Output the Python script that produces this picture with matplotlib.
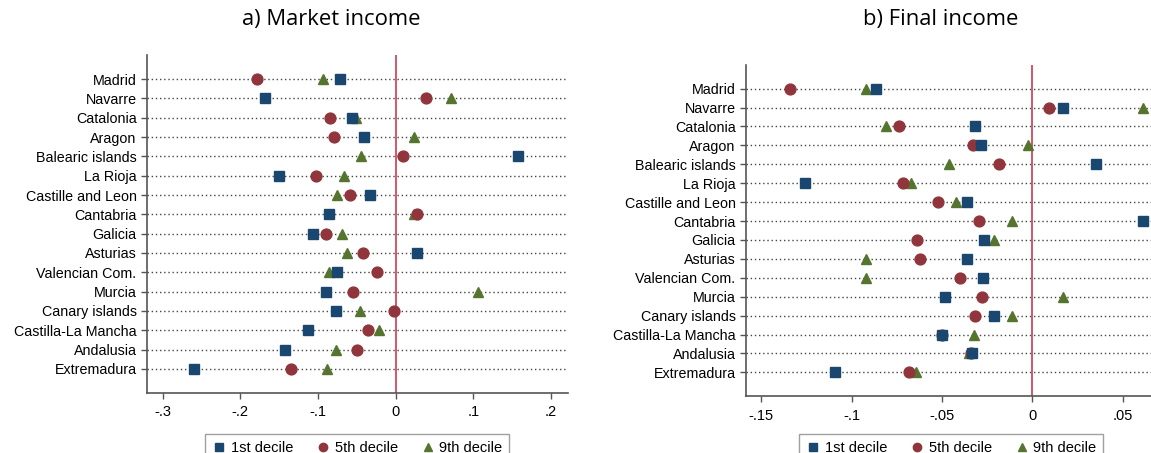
import numpy as np
import matplotlib.pyplot as plt
from matplotlib.lines import Line2D

plt.rcParams['font.family'] = ['Liberation Sans', 'DejaVu Sans']

regions = ["Madrid", "Navarre", "Catalonia", "Aragon", "Balearic islands", "La Rioja",
           "Castille and Leon", "Cantabria", "Galicia", "Asturias", "Valencian Com.",
           "Murcia", "Canary islands", "Castilla-La Mancha", "Andalusia", "Extremadura"]

# a) Market income
market_d1 = [-0.071, -0.168, -0.056, -0.041, 0.157, -0.150, -0.033, -0.086,
             -0.106, 0.028, -0.076, -0.090, -0.077, -0.113, -0.142, -0.259]
market_d5 = [-0.178, 0.039, -0.085, -0.079, 0.010, -0.102, -0.059, 0.027,
             -0.089, -0.042, -0.024, -0.055, -0.002, -0.036, -0.050, -0.134]
market_d9 = [-0.094, 0.072, -0.051, 0.024, -0.044, -0.067, -0.075, 0.024,
             -0.069, -0.062, -0.086, 0.106, -0.046, -0.021, -0.077, -0.088]

# b) Final income
final_d1 = [-0.0865, 0.0168, -0.0316, -0.0286, 0.035, -0.1256, -0.0362, 0.061,
            -0.0266, -0.0362, -0.0271, -0.0483, -0.0212, -0.0502, -0.0334, -0.1095]
final_d5 = [-0.134, 0.0092, -0.074, -0.0327, -0.0186, -0.0718, -0.0524, -0.0293,
            -0.0637, -0.062, -0.040, -0.028, -0.0315, -0.0500, -0.0340, -0.0685]
final_d9 = [-0.092, 0.061, -0.081, -0.0026, -0.0463, -0.0673, -0.042, -0.0114,
            -0.0214, -0.0919, -0.0923, 0.0168, -0.0113, -0.0325, -0.0350, -0.0645]

navy = '#1a476f'
maroon = '#90353b'
green = '#55752f'
zero_red = '#cf4a5e'

W, H = 1151, 453
fig = plt.figure(figsize=(W / 100, H / 100), dpi=100)


def panel(rect, d1, d5, d9, xlim, xticks, xlabels):
    ax = fig.add_axes(rect)
    y = np.arange(len(regions))
    for yy in y:
        ax.axhline(yy, color='#444444', lw=1.0, ls=(0, (1, 2)), zorder=1)
    ax.axvline(0, color=zero_red, lw=1.3, zorder=2)
    ax.plot(d9, y, '^', color=green, ms=7.8, ls='none', zorder=3)
    ax.plot(d5, y, 'o', color=maroon, ms=7.8, ls='none', zorder=4)
    ax.plot(d1, y, 's', color=navy, ms=7.8, ls='none', zorder=5)
    ax.set_yticks(y)
    ax.set_yticklabels(regions, fontsize=10.3)
    ax.set_ylim(len(regions) - 1 + 1.25, -1.25)
    ax.set_xlim(*xlim)
    ax.set_xticks(xticks)
    ax.set_xticklabels(xlabels, fontsize=10.5)
    for s in ['top', 'right']:
        ax.spines[s].set_visible(False)
    for s in ['left', 'bottom']:
        ax.spines[s].set_color('#555555')
        ax.spines[s].set_linewidth(1.2)
    ax.tick_params(axis='both', colors='#555555', labelcolor='black', length=4, width=1)
    ax.tick_params(axis='x', pad=5)
    return ax


ax1 = panel([147 / W, 1 - 393 / H, 421 / W, 338 / H], market_d1, market_d5, market_d9,
            (-0.320, 0.222), [-0.3, -0.2, -0.1, 0, 0.1, 0.2],
            ['-.3', '-.2', '-.1', '0', '.1', '.2'])
ax2 = panel([746 / W, 1 - 396 / H, 405 / W, 331 / H], final_d1, final_d5, final_d9,
            (-0.1585, 0.0657), [-0.15, -0.1, -0.05, 0, 0.05],
            ['-.15', '-.1', '-.05', '0', '.05'])

fig.text(331 / W, 1 - 20 / H, "a) Market income", ha='center', va='center',
         fontsize=15.8, family=['Open Sans', 'DejaVu Sans'])
fig.text(941 / W, 1 - 20 / H, "b) Final income", ha='center', va='center',
         fontsize=15.8, family=['Open Sans', 'DejaVu Sans'])

handles = [
    Line2D([], [], marker='s', color=navy, ls='none', ms=6),
    Line2D([], [], marker='o', color=maroon, ls='none', ms=6),
    Line2D([], [], marker='^', color=green, ls='none', ms=6),
]
labels = ["1st decile", "5th decile", "9th decile"]
for cx in (357, 951):
    leg = fig.legend(handles, labels, loc='upper center', ncol=3,
                     bbox_to_anchor=(cx / W, 1 - 427 / H), fontsize=10.5,
                     frameon=True, fancybox=False, edgecolor='#888888',
                     handletextpad=0.3, columnspacing=1.55, handlelength=1.0,
                     borderpad=0.45)
    leg.get_frame().set_linewidth(1.0)

fig.savefig("out.png", dpi=100)
